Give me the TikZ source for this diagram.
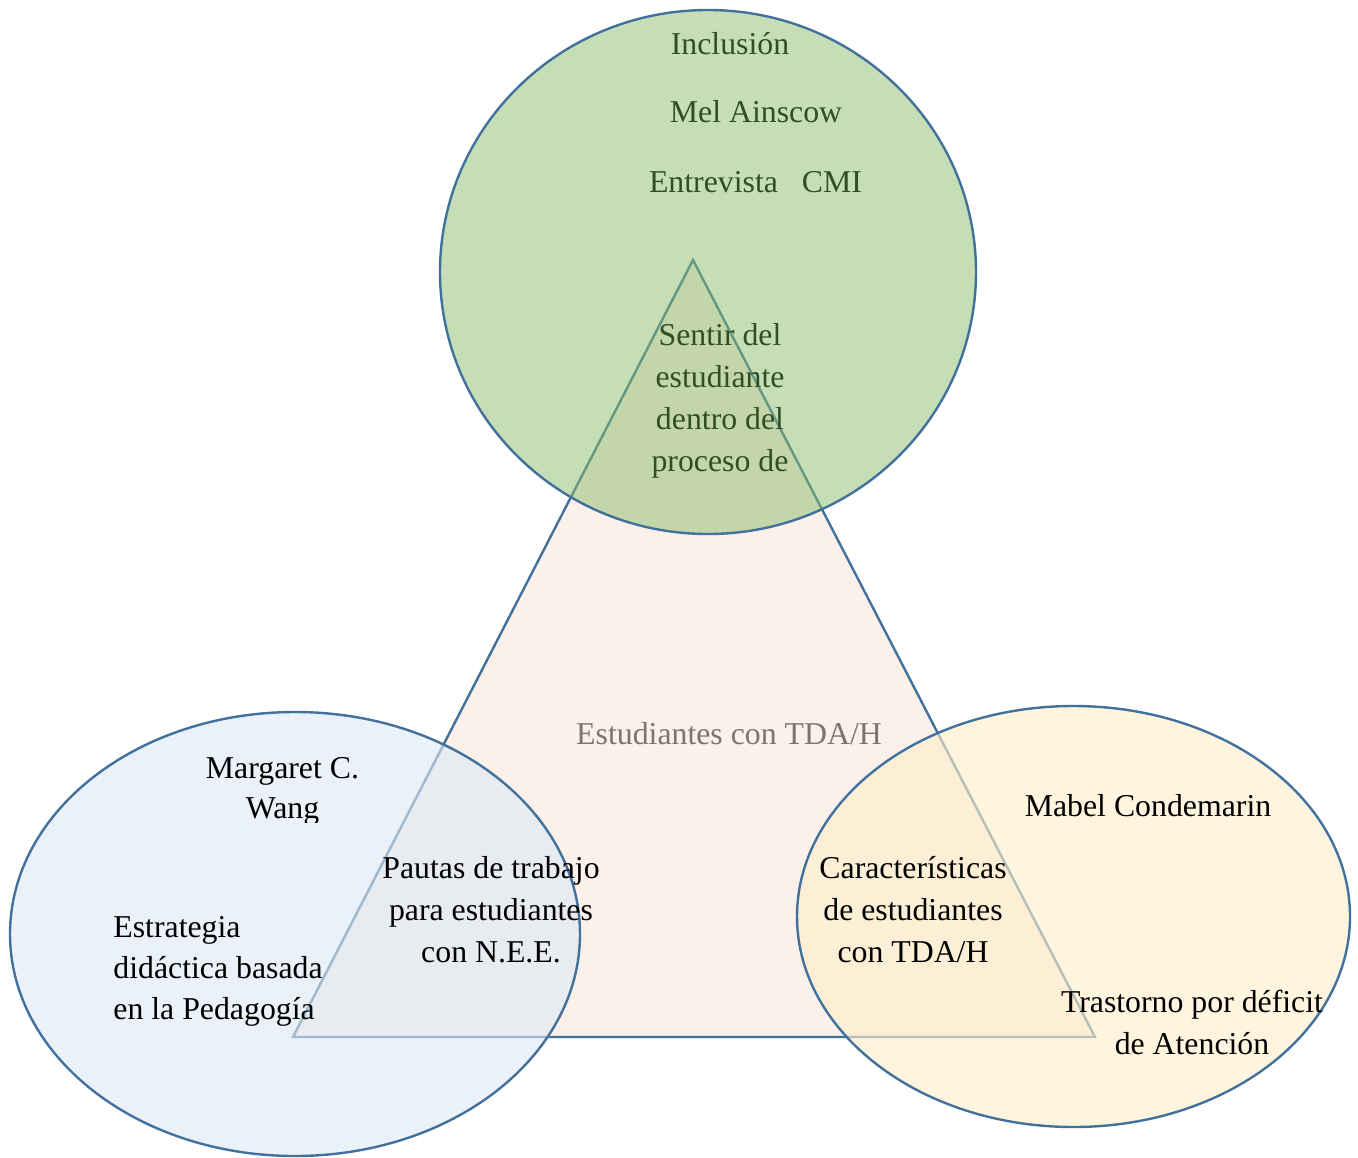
\documentclass[tikz,border=0pt]{standalone}
\usepackage{fontspec}
\setmainfont{Liberation Serif}
\definecolor{edgeblue}{RGB}{65,113,156}
\definecolor{trifill}{RGB}{251,241,234}
\definecolor{topfill}{RGB}{139,189,107}
\definecolor{leftfill}{RGB}{220,232,243}
\definecolor{rightfill}{RGB}{255,238,202}
\definecolor{greentext}{RGB}{50,78,36}
\definecolor{graytext}{RGB}{127,115,107}
\begin{document}
\begin{tikzpicture}[x=0.5pt,y=-0.5pt,
  txt/.style={font=\fontsize{15.9}{21}\selectfont, inner sep=0pt, align=center},
  outline/.style={draw=edgeblue, line width=1.2pt},
  greentxt/.style={txt, text=greentext},
  graytxt/.style={txt, text=graytext}]
\useasboundingbox (0,0) rectangle (1358,1157);
% triangle
\coordinate (apex) at (693,260);
\coordinate (bl) at (293,1037);
\coordinate (br) at (1095,1037);
\draw[outline, fill=trifill, line join=miter] (apex) -- (br) -- (bl) -- cycle;
% circles
\draw[outline, fill=topfill, fill opacity=0.5] (708,272) ellipse [x radius=268, y radius=262];
\draw[outline, fill=leftfill, fill opacity=0.6] (295,934) ellipse [x radius=285, y radius=222];
\draw[outline, fill=rightfill, fill opacity=0.62] (1073.5,916.5) ellipse [x radius=276.5, y radius=210.5];
% top texts
\node[greentxt, anchor=base] (incl) at (730,54) {Inclusión};
\node[greentxt, anchor=base] (mel) at (756,122) {Mel Ainscow};
\node[greentxt, anchor=base] (entr) at (755.5,192) {Entrevista\hspace{12pt}CMI};
\node[greentxt, anchor=north] (sentir) at (720,315.6) {\strut Sentir del\\estudiante\\dentro del\\proceso de};
% center
\node[graytxt, anchor=base] (estud) at (729,744) {Estudiantes con TDA/H};
% left
\begin{scope}
\clip (0,0) rectangle (1358,822);
\node[txt, anchor=north] (wang) at (282.5,748.6) {\strut Margaret C.\\[-1pt]Wang};
\end{scope}
\node[txt, anchor=north west, align=left] (estr) at (113,907.6) {\strut Estrategia\\[-0.5pt]didáctica basada\\[-0.5pt]en la Pedagogía};
\node[txt, anchor=north] (pautas) at (491,848.6) {\strut Pautas de trabajo\\para estudiantes\\con N.E.E.};
% right
\node[txt, anchor=base] (mabel) at (1148,816) {Mabel Condemarin};
\node[txt, anchor=north] (caract) at (913,848.6) {\strut Características\\de estudiantes\\con TDA/H};
\node[txt, anchor=north] (trast) at (1192,982.6) {\strut Trastorno por déficit\\de Atención};
\end{tikzpicture}
\end{document}
